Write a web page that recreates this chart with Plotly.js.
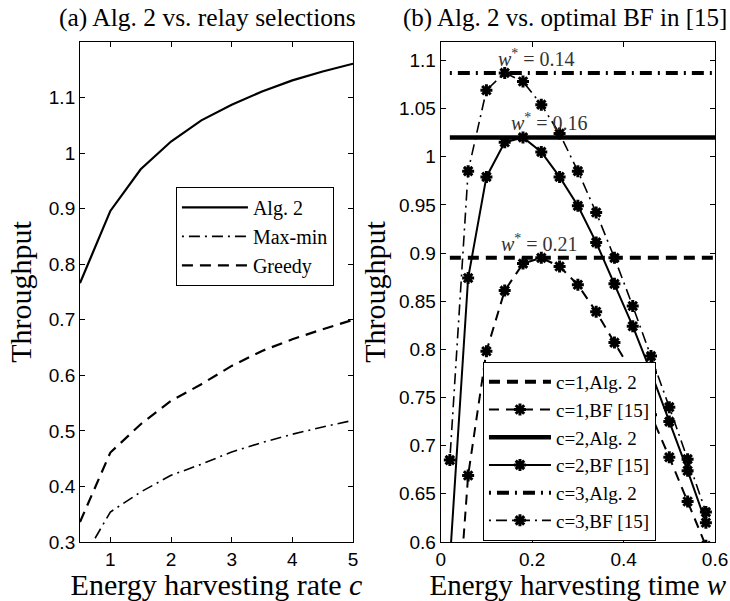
<!DOCTYPE html>
<html>
<head>
<meta charset="utf-8">
<script src="https://cdn.plot.ly/plotly-3.0.1.min.js"></script>
<style>
  html, body { margin: 0; padding: 0; background: #fff; }
  #chart { width: 730px; height: 601px; }
</style>
</head>
<body>
<div id="chart"></div>
<script>
// ---- (a) throughput vs. energy harvesting rate c ----
const harvestRate = [0.5, 1, 1.5, 2, 2.5, 3, 3.5, 4, 4.5, 5];
const alg2Rate    = [0.766, 0.896, 0.971, 1.021, 1.059, 1.087, 1.111, 1.131, 1.147, 1.161];
const maxMinRate  = [0.260, 0.354, 0.390, 0.420, 0.440, 0.462, 0.479, 0.494, 0.507, 0.519];
const greedyRate  = [0.336, 0.461, 0.512, 0.554, 0.584, 0.617, 0.644, 0.665, 0.683, 0.700];

// ---- (b) throughput vs. energy harvesting time w ----
const harvestTime = [0.02, 0.06, 0.10, 0.14, 0.18, 0.22, 0.26, 0.30, 0.34, 0.38, 0.42, 0.46, 0.50, 0.54, 0.58];
const bfC1 = [0.410, 0.669, 0.798, 0.861, 0.889, 0.895, 0.886, 0.867, 0.839, 0.807, 0.775, 0.732, 0.688, 0.642, 0.596];
const bfC2 = [0.580, 0.874, 0.979, 1.015, 1.020, 1.005, 0.979, 0.949, 0.911, 0.868, 0.824, 0.776, 0.725, 0.674, 0.620];
const bfC3 = [0.685, 0.985, 1.069, 1.087, 1.078, 1.054, 1.024, 0.985, 0.942, 0.895, 0.845, 0.793, 0.740, 0.686, 0.631];
const alg2Level = [0.895, 1.020, 1.087];   // c = 1, 2, 3
const optimalW  = [0.21, 0.16, 0.14];      // c = 1, 2, 3
const labelW    = [0.217, 0.238, 0.210];   // label anchor along w for each w* note

const rateTicks = [1, 2, 3, 4, 5];
const leftYTicks = [0.3, 0.4, 0.5, 0.6, 0.7, 0.8, 0.9, 1, 1.1];
const timeTicks = [0, 0.2, 0.4, 0.6];
const rightYTicks = [0.6, 0.65, 0.7, 0.75, 0.8, 0.85, 0.9, 0.95, 1, 1.05, 1.1];

const wMax = 0.6;
const SERIF = 'Liberation Serif';
const SANS = 'Liberation Sans';
const starMarker = { symbol: 'asterisk-open', size: 10, color: '#000', line: { color: '#000', width: 3 } };

const traces = [
  { x: harvestRate, y: alg2Rate, name: 'Alg. 2', mode: 'lines',
    line: { color: '#000', width: 2.2 }, xaxis: 'x', yaxis: 'y', legend: 'legend' },
  { x: harvestRate, y: maxMinRate, name: 'Max-min', mode: 'lines',
    line: { color: '#000', width: 1.6, dash: '2px,5px,11px,5px' }, xaxis: 'x', yaxis: 'y', legend: 'legend' },
  { x: harvestRate, y: greedyRate, name: 'Greedy', mode: 'lines',
    line: { color: '#000', width: 2.2, dash: '11px,7px' }, xaxis: 'x', yaxis: 'y', legend: 'legend' },

  { x: [harvestTime[0], wMax], y: [alg2Level[0], alg2Level[0]], name: 'c=1,Alg. 2', mode: 'lines',
    line: { color: '#000', width: 4, dash: '11px,7px' }, xaxis: 'x2', yaxis: 'y2', legend: 'legend2' },
  { x: harvestTime, y: bfC1, name: 'c=1,BF [15]', mode: 'lines+markers',
    line: { color: '#000', width: 2, dash: '10px,7px' }, marker: starMarker, xaxis: 'x2', yaxis: 'y2', legend: 'legend2' },
  { x: [harvestTime[0], wMax], y: [alg2Level[1], alg2Level[1]], name: 'c=2,Alg. 2', mode: 'lines',
    line: { color: '#000', width: 4.5 }, xaxis: 'x2', yaxis: 'y2', legend: 'legend2' },
  { x: harvestTime, y: bfC2, name: 'c=2,BF [15]', mode: 'lines+markers',
    line: { color: '#000', width: 2 }, marker: starMarker, xaxis: 'x2', yaxis: 'y2', legend: 'legend2' },
  { x: [harvestTime[0], wMax], y: [alg2Level[2], alg2Level[2]], name: 'c=3,Alg. 2', mode: 'lines',
    line: { color: '#000', width: 4, dash: '2px,6px,12px,6px' }, xaxis: 'x2', yaxis: 'y2', legend: 'legend2' },
  { x: harvestTime, y: bfC3, name: 'c=3,BF [15]', mode: 'lines+markers',
    line: { color: '#000', width: 1.6, dash: '2px,5px,11px,5px' }, marker: starMarker, xaxis: 'x2', yaxis: 'y2', legend: 'legend2' }
];

function axisStyle(extra) {
  return Object.assign({
    showline: true, linecolor: '#000', linewidth: 1, mirror: 'ticks',
    ticks: 'inside', ticklen: 5, tickcolor: '#000', tickwidth: 1,
    showgrid: false, zeroline: false, automargin: false,
    tickfont: { family: SANS, size: 19, color: '#000' }
  }, extra);
}

const titleFont = { family: SERIF, size: 30, color: '#000' };

const optNotes = alg2Level.map((lvl, i) => ({
  xref: 'x2', yref: 'y2', x: labelW[i], y: lvl, yshift: 15,
  text: '<i>w</i><sup>*</sup> = ' + optimalW[i],
  showarrow: false, font: { family: SERIF, size: 20, color: '#333' }
}));

const layout = {
  width: 730, height: 601,
  margin: { l: 0, r: 0, t: 0, b: 0 },
  paper_bgcolor: '#fff', plot_bgcolor: '#fff',
  font: { family: SERIF, color: '#000' },
  showlegend: true,
  xaxis: axisStyle({ domain: [0.1096, 0.4836], range: [0.5, 5], tickvals: rateTicks, anchor: 'y',
    title: { text: 'Energy harvesting rate <i>c</i>', font: titleFont, standoff: 6 } }),
  yaxis: axisStyle({ domain: [0.0982, 0.930], range: [0.3, 1.2], tickvals: leftYTicks, anchor: 'x',
    title: { text: 'Throughput', font: titleFont, standoff: 8 } }),
  xaxis2: axisStyle({ domain: [0.6037, 0.9795], range: [0, wMax], tickvals: timeTicks, anchor: 'y2',
    title: { text: 'Energy harvesting time <i>w</i>', font: Object.assign({}, titleFont, { size: 29 }), standoff: 6 } }),
  yaxis2: axisStyle({ domain: [0.0982, 0.930], range: [0.6, 1.119], tickvals: rightYTicks, anchor: 'x2',
    title: { text: 'Throughput', font: titleFont, standoff: 4 } }),
  legend: {
    x: 0.241, y: 0.689, xanchor: 'left', yanchor: 'top', itemwidth: 66,
    bgcolor: '#fff', bordercolor: '#000', borderwidth: 1,
    font: { family: SERIF, size: 20, color: '#000' }
  },
  legend2: {
    x: 0.6616, y: 0.3977, xanchor: 'left', yanchor: 'top', itemwidth: 62,
    bgcolor: '#fff', bordercolor: '#000', borderwidth: 1,
    font: { family: SERIF, size: 19, color: '#000' }
  },
  annotations: [
    { xref: 'paper', yref: 'paper', x: 207 / 730, y: 1 - 18 / 601, xanchor: 'center', yanchor: 'middle',
      text: '(a) Alg. 2 vs. relay selections', showarrow: false, font: { family: SERIF, size: 25.5, color: '#000' } },
    { xref: 'paper', yref: 'paper', x: 565 / 730, y: 1 - 18 / 601, xanchor: 'center', yanchor: 'middle',
      text: '(b) Alg. 2 vs. optimal BF in [15]', showarrow: false, font: { family: SERIF, size: 25, color: '#000' } }
  ].concat(optNotes)
};

Plotly.newPlot('chart', traces, layout, { displayModeBar: false, staticPlot: true });
</script>
</body>
</html>
